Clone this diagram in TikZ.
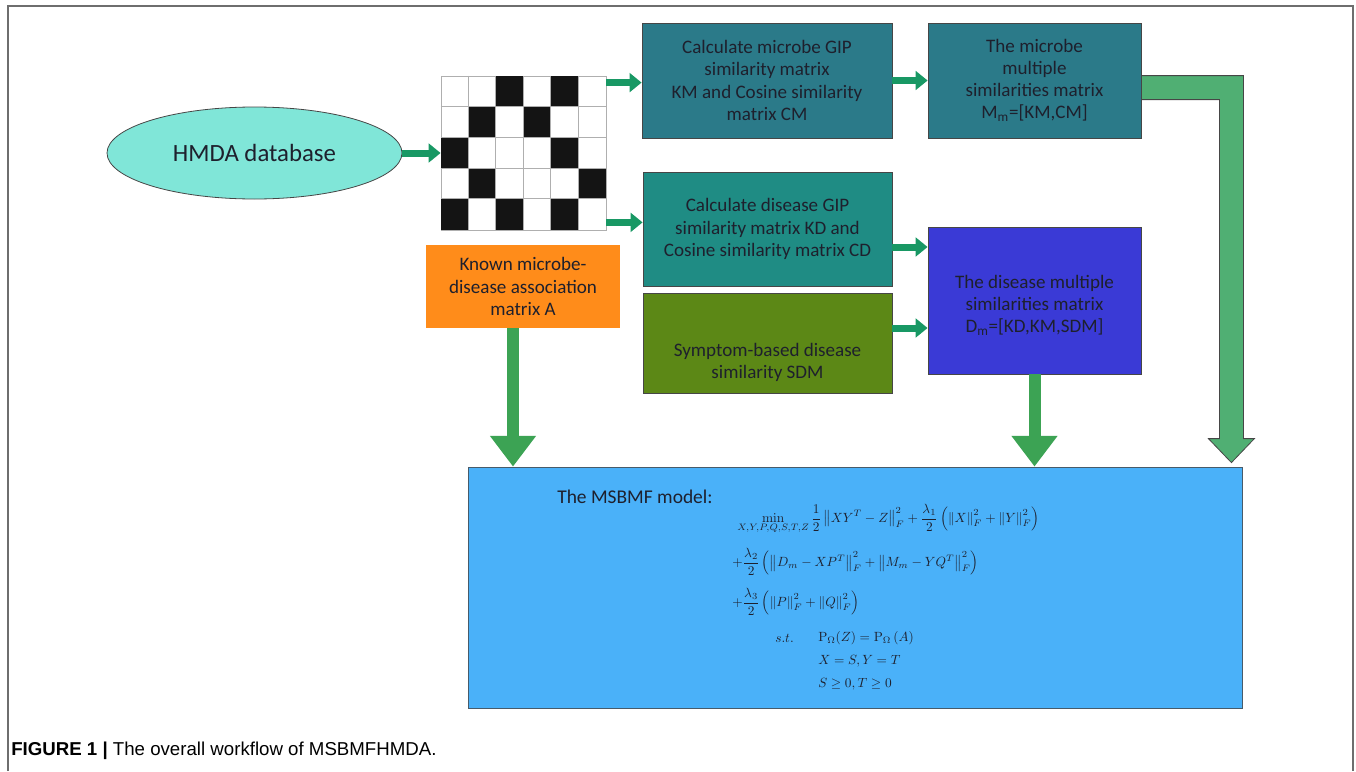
\documentclass[tikz,border=0pt]{standalone}
\usepackage{amsmath}
\usepackage[no-math]{fontspec}
\setmainfont{Carlito}
\newfontfamily\capfont{Liberation Sans}
\usetikzlibrary{arrows.meta,calc,shapes.geometric}
\definecolor{frameg}{RGB}{110,110,110}
\definecolor{bordg}{RGB}{70,70,70}
\definecolor{tealA}{RGB}{43,122,137}
\definecolor{tealB}{RGB}{31,140,132}
\definecolor{oliveC}{RGB}{92,136,22}
\definecolor{blueD}{RGB}{58,58,214}
\definecolor{orangeE}{RGB}{255,140,26}
\definecolor{skyF}{RGB}{74,177,249}
\definecolor{aquaG}{RGB}{128,230,216}
\definecolor{smallgreen}{RGB}{24,152,100}
\definecolor{biggreen}{RGB}{60,163,84}
\definecolor{lgreen}{RGB}{80,175,115}
\definecolor{txtdark}{RGB}{30,32,45}
\definecolor{gridg}{RGB}{175,175,175}
\tikzset{
  box/.style={draw=bordg, line width=0.6pt, rectangle, align=center, text=txtdark,
              font=\fontsize{14.3}{16.6}\selectfont, inner sep=0pt},
  smallarrow/.style={draw=smallgreen, line width=5.25pt,
              -{Triangle[length=9pt,width=14pt]}},
  bigarrow/.style={draw=biggreen, line width=9pt,
              -{Triangle[length=23pt,width=33pt]}},
  mathline/.style={anchor=west, inner sep=0pt, text=txtdark, font=\fontsize{10.2}{12}\selectfont},
}
\begin{document}
\begin{tikzpicture}[x=0.75pt,y=-0.75pt]
\useasboundingbox (0,0) rectangle (1356,771);
% frame
\draw[frameg, line width=1.1pt] (8,771) -- (8,6) -- (1353,6) -- (1353,771);

% ellipse
\node[ellipse, draw=bordg, line width=0.6pt, fill=aquaG, minimum width=221.25pt, minimum height=69pt,
      font=\fontsize{18.6}{21}\selectfont, text=txtdark] (db) at (254.5,153) {HMDA database};

% grid
\node[rectangle, draw=gridg, line width=0.6pt, minimum width=123.75pt, minimum height=115.5pt, inner sep=0pt, fill=white] (grid) at (523.5,153) {};
\foreach \c/\r in {2/0,4/0,1/1,3/1,0/2,4/2,1/3,5/3,0/4,2/4,4/4}{
  \fill[black!92] ($(grid.north west)+(\c*27.5,\r*30.8)$) rectangle ++(27.5,30.8);
}
\foreach \c in {1,...,5}{\draw[gridg, line width=0.6pt] ($(grid.north west)+(\c*27.5,0)$) -- ++(0,154);}
\foreach \r in {1,...,4}{\draw[gridg, line width=0.6pt] ($(grid.north west)+(0,\r*30.8)$) -- ++(165,0);}

% boxes
\node[box, fill=tealA, minimum width=187.5pt, minimum height=86.25pt] (b1) at (767,80.5)
  {Calculate microbe GIP\\similarity matrix\\KM and Cosine similarity\\matrix CM};
\node[box, fill=tealA, minimum width=159.75pt, minimum height=86.25pt] (b2) at (1034.5,80.5)
  {The microbe\\multiple\\similarities matrix\\M\textsubscript{m}=[KM,CM]};
\node[box, fill=tealB, minimum width=186.75pt, minimum height=85.5pt] (b3) at (767.5,229)
  {Calculate disease GIP\\similarity matrix KD and\\Cosine similarity matrix CD};
\node[box, fill=oliveC, minimum width=186.75pt, minimum height=75pt] (b4) at (767.5,343) {};
\node[align=center, text=txtdark, font=\fontsize{14.3}{16.6}\selectfont, inner sep=0pt] (b4t) at (767.5,362)
  {Symptom-based disease\\similarity SDM};
\node[box, fill=blueD, minimum width=159.75pt, minimum height=110.25pt] (b5) at (1034.5,300.5) {};
\node[align=center, text=txtdark, font=\fontsize{14.3}{16.6}\selectfont, inner sep=0pt] (b5t) at (1034.5,305)
  {The disease multiple\\similarities matrix\\D\textsubscript{m}=[KD,KM,SDM]};
\node[box, draw=none, fill=orangeE, minimum width=145.5pt, minimum height=62.25pt] (known) at (523,286.5)
  {Known microbe-\\disease association\\matrix A};
\node[box, draw=bordg!80!skyF, fill=skyF, minimum width=580.5pt, minimum height=180.75pt] (model) at (855,587.5) {};

% model text
\node[anchor=west, inner sep=0pt, text=txtdark, font=\fontsize{14.6}{17}\selectfont] (mtitle) at (557,497) {The MSBMF model:};
\node[mathline] (m1) at (737,519) {$\displaystyle \min_{X,Y,P,Q,S,T,Z}\frac{1}{2}\left\|XY^{T}-Z\right\|_{F}^{2}+\frac{\lambda_1}{2}\left(\left\|X\right\|_{F}^{2}+\left\|Y\right\|_{F}^{2}\right)$};
\node[mathline] (m2) at (732,562) {$\displaystyle +\frac{\lambda_2}{2}\left(\left\|D_{m}-XP^{T}\right\|_{F}^{2}+\left\|M_{m}-YQ^{T}\right\|_{F}^{2}\right)$};
\node[mathline] (m3) at (732,602) {$\displaystyle +\frac{\lambda_3}{2}\left(\left\|P\right\|_{F}^{2}+\left\|Q\right\|_{F}^{2}\right)$};
\node[mathline] (m4a) at (775,638) {$s.t.$};
\node[mathline] (m4) at (818,638) {$\mathrm{P}_{\Omega}(Z)=\mathrm{P}_{\Omega}\,(A)$};
\node[mathline] (m5) at (818,661) {$X=S,Y=T$};
\node[mathline] (m6) at (818,684) {$S\geq 0,T\geq 0$};

% small arrows
\draw[smallarrow] (db.east) -- (grid.west);
\draw[smallarrow] ($(grid.north east)+(0,7)$) -- (b1.west |- {$(grid.north east)+(0,7)$});
\draw[smallarrow] ($(grid.south east)+(0,-8)$) -- (b3.west |- {$(grid.south east)+(0,-8)$});
\draw[smallarrow] (b1.east) -- (b2.west);
\draw[smallarrow] ($(b3.east)+(0,18)$) -- (b5.west |- {$(b3.east)+(0,18)$});
\draw[smallarrow] ($(b4.east)+(0,-15)$) -- (b5.west |- {$(b4.east)+(0,-15)$});

% big arrows
\draw[bigarrow] ($(known.south)+(-10,0)$) -- ({$(known.south)+(-10,0)$} |- model.north);
\draw[bigarrow] (b5.south) -- (b5.south |- model.north);

% L-shaped arrow
\coordinate (Ltop) at ($(b2.north east)+(0,53)$);
\coordinate (Lend) at ($(model.north east)+(-11,-4)$);
\filldraw[fill=lgreen, draw=bordg, line width=0.6pt]
  (Ltop) -- ++(102,0) -- (Ltop -| {$(Lend)+(12,0)$}) -- ({$(Lend)+(12,0)$} |- {$(Lend)+(0,-24)$})
  -- ++(11,0) -- (Lend) -- ($(Lend)+(-23,-24)$) -- ++(11,0)
  -- ({$(Lend)+(-12,-24)$} |- {$(Ltop)+(0,24)$}) -- ($(Ltop)+(0,24)$) -- cycle;

% caption
\node[anchor=west, inner sep=0pt, font=\capfont\fontsize{14}{16}\selectfont] (cap) at (11,751)
  {\textbf{FIGURE 1 |} The overall workflow of MSBMFHMDA.};
\end{tikzpicture}
\end{document}
